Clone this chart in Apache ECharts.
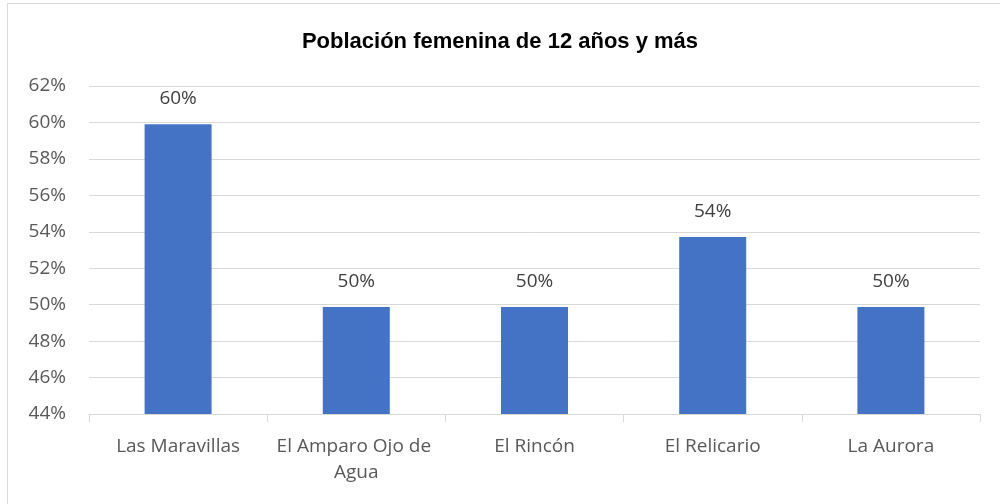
<!DOCTYPE html>
<html><head><meta charset="utf-8">
<script src="https://cdn.jsdelivr.net/npm/echarts@6/dist/echarts.min.js"></script>
<style>html,body{margin:0;padding:0;background:#fff}#c{width:1000px;height:504px}</style>
</head><body><div id="c"></div>
<script>
const categories = ["Las Maravillas", "El Amparo Ojo de Agua", "El Rincón", "El Relicario", "La Aurora"];
const values = [59.9, 49.87, 49.87, 53.72, 49.87];
const yTicks = { min: 44, max: 62, interval: 2 };
const title = "Población femenina de 12 años y más";

const chart = echarts.init(document.getElementById('c'));
chart.setOption({
  animation: false,
  backgroundColor: '#ffffff',
  title: {
    text: title, left: 'center', top: 26,
    textStyle: { fontFamily: 'Liberation Sans', fontWeight: 'bold', fontSize: 22, color: '#000' }
  },
  graphic: [{
    type: 'rect', shape: { x: 7.5, y: 3.5, width: 1100, height: 600 },
    style: { fill: 'none', stroke: '#d9d9d9', lineWidth: 1 }, silent: true
  }],
  grid: { left: 89, right: 20, top: 86, bottom: 90 },
  xAxis: {
    type: 'category', data: categories,
    axisLine: { lineStyle: { color: '#d9d9d9', width: 1 } },
    axisTick: { show: true, length: 8, lineStyle: { color: '#d9d9d9' } },
    axisLabel: {
      color: '#595959', fontFamily: 'Open Sans', fontSize: 19, margin: 20,
      width: 176, overflow: 'break', lineHeight: 26, interval: 0
    }
  },
  yAxis: {
    type: 'value', min: yTicks.min, max: yTicks.max, interval: yTicks.interval,
    axisLine: { show: false }, axisTick: { show: false },
    splitLine: { lineStyle: { color: '#d9d9d9', width: 1 } },
    axisLabel: {
      color: '#595959', fontFamily: 'Open Sans', fontSize: 19, margin: 23,
      formatter: v => Math.round(v) + '%'
    }
  },
  series: [{
    type: 'bar', data: values, barWidth: 67,
    itemStyle: { color: '#4472c4' },
    label: {
      show: true, position: 'top', distance: 16,
      color: '#404040', fontFamily: 'Open Sans', fontSize: 19,
      formatter: p => Math.round(p.value) + '%'
    }
  }]
});
</script></body></html>
